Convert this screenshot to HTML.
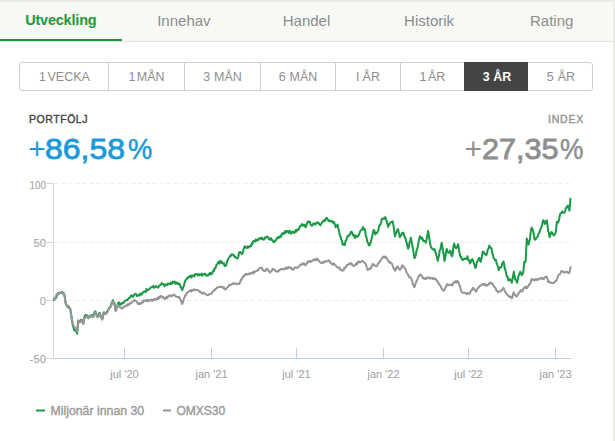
<!DOCTYPE html>
<html><head><meta charset="utf-8">
<style>
html,body{margin:0;padding:0;}
body{width:615px;height:441px;overflow:hidden;background:#ecebe6;font-family:"Liberation Sans",sans-serif;position:relative;}
#panel{position:absolute;left:0;top:2px;width:613px;height:439px;background:#fff;}
#tabs{position:absolute;left:0;top:0;width:613px;height:39px;background:#f8f8f5;border-bottom:1px solid #e3e3df;}
.tab{position:absolute;top:0;height:39px;width:122.6px;text-align:center;line-height:37px;font-size:15px;color:#8d8d8d;}
.tab.act{color:#1b9a3e;font-weight:bold;font-size:14.5px;letter-spacing:-0.2px;text-indent:-1px;}
#uline{position:absolute;left:0;top:37px;width:122px;height:2px;background:#17953a;}
#btns{position:absolute;left:19px;top:60px;width:572px;height:27px;border:1px solid #cfcfcf;border-radius:3px;}
.b{position:absolute;top:0;height:27px;line-height:29px;word-spacing:-2px;text-align:center;font-size:12.5px;color:#8e8e8e;border-left:1px solid #cfcfcf;box-sizing:border-box;}
.b.sel{background:#444;color:#fff;font-weight:bold;border-left:none;top:-1px;height:29px;line-height:31px;}
.lab{position:absolute;font-size:10.5px;font-weight:normal;letter-spacing:0.55px;line-height:10px;-webkit-text-stroke:0.4px currentColor;}
.val{position:absolute;font-size:30px;line-height:30px;white-space:nowrap;}
.val span{position:absolute;top:0;transform-origin:0 0;}
.val .d{-webkit-text-stroke:0.8px currentColor;}
.val .c{-webkit-text-stroke:0.5px currentColor;}
svg{position:absolute;left:0;top:0;}
text{font-family:"Liberation Sans",sans-serif;}
</style></head><body>
<div id="panel">
 <div id="tabs">
  <div class="tab act" style="left:0">Utveckling</div>
  <div class="tab" style="left:122.6px">Innehav</div>
  <div class="tab" style="left:245.2px">Handel</div>
  <div class="tab" style="left:367.8px">Historik</div>
  <div class="tab" style="left:490.4px">Rating</div>
  <div id="uline"></div>
 </div>
 <div id="btns">
  <div class="b" style="left:0;width:89px;border-left:none">1 VECKA</div>
  <div class="b" style="left:88px;width:76px">1 MÅN</div>
  <div class="b" style="left:164px;width:76px;word-spacing:0.5px">3 MÅN</div>
  <div class="b" style="left:240px;width:75px;word-spacing:0.5px">6 MÅN</div>
  <div class="b" style="left:315px;width:65px;word-spacing:-0.5px">I ÅR</div>
  <div class="b" style="left:380px;width:64px">1 ÅR</div>
  <div class="b sel" style="left:444px;width:64px;word-spacing:0px;padding-left:2px">3 ÅR</div>
  <div class="b" style="left:508px;width:64px;border-left:none;word-spacing:0.5px;padding-left:2px">5 ÅR</div>
 </div>
 <div class="lab" style="left:29px;top:112px;color:#444">PORTFÖLJ</div>
 <div class="val" style="left:0;top:132px;color:#1b9ad8;width:300px;height:30px">
  <span class="p" style="left:28.3px">+</span>
  <span class="d" style="left:44.8px;transform:scaleX(1.065)">86,58</span>
  <span class="c" style="left:128.4px;transform:scaleX(0.91)">%</span>
 </div>
 <div class="lab" style="left:548px;top:112px;color:#939393;letter-spacing:0.8px">INDEX</div>
 <div class="val" style="left:0;top:132px;color:#8e8e8e;width:613px;height:30px">
  <span class="p" style="left:464.5px">+</span>
  <span class="d" style="left:481.5px;transform:scaleX(1.02)">27,35</span>
  <span class="c" style="left:559.6px;transform:scaleX(0.88)">%</span>
 </div>
</div>
<svg width="615" height="441" viewBox="0 0 615 441">
 <g stroke="#ececec" stroke-width="1" stroke-dasharray="4 3" fill="none">
  <line x1="54.5" y1="183.5" x2="570" y2="183.5"/>
  <line x1="54.5" y1="242.5" x2="570" y2="242.5"/>
  <line x1="54.5" y1="300.5" x2="570" y2="300.5"/>
 </g>
 <g stroke="#d8d8d8" stroke-width="1" fill="none">
  <line x1="53.5" y1="183" x2="53.5" y2="359"/>
  <line x1="45.5" y1="183.5" x2="54" y2="183.5"/>
  <line x1="45.5" y1="242.5" x2="54" y2="242.5"/>
  <line x1="45.5" y1="300.5" x2="54" y2="300.5"/>
  <line x1="45.5" y1="358.5" x2="54" y2="358.5"/>
 </g>
 <g stroke="#b9cfe6" stroke-width="1" fill="none">
  <line x1="54" y1="358.5" x2="571" y2="358.5"/>
  <line x1="124.5" y1="348" x2="124.5" y2="358"/>
  <line x1="211.5" y1="348" x2="211.5" y2="358"/>
  <line x1="296.5" y1="348" x2="296.5" y2="358"/>
  <line x1="383.5" y1="348" x2="383.5" y2="358"/>
  <line x1="468.5" y1="348" x2="468.5" y2="358"/>
  <line x1="555.5" y1="348" x2="555.5" y2="358"/>
 </g>
 <g font-size="11.2" fill="#9e9e9e" text-anchor="end">
  <text x="46" y="189" textLength="16.5" lengthAdjust="spacingAndGlyphs">100</text>
  <text x="46" y="247.2">50</text>
  <text x="46" y="305.2">0</text>
  <text x="46" y="363.2">-50</text>
 </g>
 <g font-size="11" fill="#9e9e9e" text-anchor="middle">
  <text x="124.5" y="378">jul '20</text>
  <text x="211.5" y="378">jan '21</text>
  <text x="296.5" y="378">jul '21</text>
  <text x="383.5" y="378">jan '22</text>
  <text x="468.5" y="378">jul '22</text>
  <text x="555.5" y="378">jan '23</text>
 </g>
 <path d="M53.8 300.0 L54.4 298.2 L55.0 298.5 L55.8 298.3 L56.5 296.9 L57.3 295.0 L58.0 293.6 L58.8 293.7 L59.5 293.0 L60.3 292.6 L61.0 292.8 L61.8 292.1 L62.6 293.7 L63.4 292.6 L64.2 294.5 L64.8 296.5 L65.4 302.1 L66.0 304.5 L66.7 305.2 L67.4 307.0 L68.1 307.2 L68.8 306.4 L69.6 308.2 L70.3 309.0 L70.9 313.6 L71.5 316.1 L72.1 320.8 L72.8 325.6 L73.6 328.0 L74.3 330.4 L75.0 330.5 L75.7 330.3 L76.4 331.4 L77.1 333.8 L77.7 327.3 L78.2 320.5 L78.8 322.5 L79.5 322.0 L80.2 320.6 L81.0 319.8 L81.7 319.9 L82.3 321.5 L83.3 323.5 L83.9 319.9 L84.5 316.8 L85.2 315.1 L85.9 315.2 L86.6 315.4 L87.3 315.2 L87.8 316.6 L88.4 318.0 L89.2 316.6 L89.9 315.9 L90.7 316.0 L91.4 315.1 L92.2 315.7 L92.9 315.1 L93.6 315.6 L94.4 312.1 L95.3 311.2 L96.0 314.0 L96.8 315.1 L97.5 316.8 L98.3 315.9 L99.0 313.3 L99.8 312.8 L100.4 315.7 L101.0 316.9 L101.7 316.4 L102.3 319.0 L103.0 315.1 L103.8 312.2 L104.5 312.9 L105.2 313.0 L105.9 313.7 L106.6 312.6 L107.4 310.8 L108.1 310.5 L108.9 308.0 L109.8 307.7 L110.6 306.5 L111.4 303.8 L112.1 302.5 L112.9 300.2 L113.7 302.7 L114.4 303.0 L115.1 307.7 L115.7 310.5 L116.5 308.2 L117.2 306.1 L118.0 303.5 L118.7 302.3 L119.4 303.1 L120.0 304.8 L120.7 303.8 L121.4 304.2 L122.1 302.7 L122.7 303.2 L123.4 303.1 L124.1 302.4 L124.7 301.0 L125.4 300.8 L126.1 300.2 L126.7 299.9 L127.4 300.2 L128.1 299.0 L128.7 298.2 L129.4 298.0 L130.1 297.5 L130.8 295.7 L131.5 295.2 L132.3 296.6 L133.0 296.9 L133.7 295.3 L134.4 294.5 L135.1 294.3 L135.7 293.7 L136.4 294.7 L137.0 296.1 L137.7 295.6 L138.3 295.0 L139.0 295.0 L139.7 295.6 L140.3 293.5 L141.0 293.8 L141.7 294.7 L142.4 293.2 L143.1 292.5 L143.7 291.6 L144.4 291.8 L145.1 291.4 L145.8 292.1 L146.5 288.9 L147.2 290.5 L147.9 290.1 L148.6 289.8 L149.3 288.9 L150.0 288.6 L150.7 287.2 L151.4 287.2 L152.0 287.2 L152.7 286.8 L153.4 285.7 L154.1 287.9 L154.7 287.0 L155.4 286.7 L156.1 286.1 L156.8 287.2 L157.5 287.3 L158.2 287.6 L158.9 286.3 L159.6 285.3 L160.4 284.9 L161.1 284.3 L161.8 283.0 L162.5 284.1 L163.2 284.5 L163.8 284.2 L164.5 286.3 L165.2 285.0 L165.9 284.2 L166.7 284.8 L167.4 285.0 L168.1 283.4 L168.8 284.1 L169.5 284.1 L170.2 284.0 L170.8 282.4 L171.5 283.9 L172.2 283.4 L172.9 281.6 L173.6 282.7 L174.3 281.5 L174.9 281.7 L175.6 283.9 L176.3 282.6 L177.0 282.4 L177.7 284.0 L178.3 283.4 L179.0 284.0 L179.7 284.1 L180.3 285.6 L181.0 287.9 L181.6 288.1 L182.3 290.3 L183.1 287.2 L183.9 285.9 L184.6 282.7 L185.4 280.4 L186.1 279.4 L186.7 279.3 L187.4 277.5 L188.0 278.0 L188.7 277.5 L189.3 276.4 L190.0 276.7 L190.7 275.4 L191.4 277.5 L192.2 276.2 L192.9 275.2 L193.6 276.1 L194.3 276.5 L195.0 274.1 L195.8 273.9 L196.5 274.1 L197.2 274.9 L197.9 275.4 L198.6 273.8 L199.4 275.2 L200.1 275.0 L200.8 274.6 L201.5 273.6 L202.2 275.6 L203.0 275.0 L203.7 274.1 L204.4 274.0 L205.1 273.7 L205.8 275.3 L206.5 275.1 L207.2 275.8 L207.9 275.6 L208.5 274.4 L209.2 274.8 L209.9 272.8 L210.6 273.0 L211.2 274.4 L211.9 273.7 L212.6 272.2 L213.3 270.5 L213.9 270.9 L214.6 268.2 L215.2 268.7 L215.9 267.0 L216.5 264.9 L217.2 264.0 L217.9 262.9 L218.7 261.7 L219.4 263.7 L220.2 260.9 L220.9 262.6 L221.7 261.3 L222.4 263.5 L223.1 263.3 L223.9 263.1 L224.6 265.9 L225.3 265.8 L226.0 265.6 L226.7 263.2 L227.3 261.1 L228.0 259.5 L228.7 258.1 L229.5 257.0 L230.2 255.6 L231.0 255.9 L231.7 254.4 L232.4 254.7 L233.0 254.6 L233.7 254.9 L234.4 257.0 L235.1 256.5 L235.8 257.5 L236.4 257.6 L237.1 258.6 L237.8 258.0 L238.4 256.5 L239.1 252.5 L239.8 252.2 L240.4 252.0 L241.1 252.9 L241.7 254.0 L242.4 253.6 L243.1 251.3 L243.7 248.4 L244.4 247.1 L245.1 246.2 L245.8 247.4 L246.4 247.8 L247.1 248.0 L247.8 246.2 L248.5 247.6 L249.1 247.0 L249.8 246.4 L250.5 245.6 L251.1 246.2 L251.8 243.3 L252.5 243.8 L253.2 241.2 L253.8 240.7 L254.5 240.8 L255.2 241.6 L256.0 239.4 L256.7 240.6 L257.4 239.8 L258.1 240.2 L258.9 238.6 L259.6 238.2 L260.3 237.7 L261.1 239.0 L261.8 237.7 L262.5 238.3 L263.1 239.6 L263.8 239.8 L264.5 239.0 L265.1 237.4 L265.7 237.9 L266.3 237.2 L267.0 236.5 L267.6 236.8 L268.3 237.4 L269.0 239.0 L269.6 239.7 L270.3 239.2 L270.9 238.1 L271.6 240.0 L272.2 239.7 L272.9 241.4 L273.6 242.1 L274.4 242.2 L275.1 240.4 L275.9 240.3 L276.6 238.7 L277.4 237.6 L278.1 238.1 L278.8 236.8 L279.5 237.8 L280.2 236.3 L280.9 236.6 L281.5 234.6 L282.2 233.4 L282.9 234.2 L283.6 232.7 L284.4 233.5 L285.1 231.0 L285.9 232.7 L286.6 231.0 L287.4 230.9 L288.1 231.8 L288.8 233.0 L289.5 230.8 L290.2 231.5 L290.9 233.8 L291.5 232.3 L292.2 231.6 L292.9 231.9 L293.6 233.0 L294.2 231.7 L294.9 232.5 L295.6 230.1 L296.2 231.8 L296.9 229.7 L297.5 229.4 L298.2 230.0 L299.0 229.1 L299.7 226.7 L300.4 225.9 L301.1 225.8 L301.9 224.1 L302.6 224.5 L303.3 225.6 L304.0 224.6 L304.7 225.2 L305.4 227.2 L306.0 227.1 L306.7 223.7 L307.4 223.1 L308.0 221.4 L308.7 221.8 L309.3 221.9 L310.0 221.7 L310.6 224.6 L311.3 225.3 L311.9 225.8 L312.6 225.0 L313.3 223.5 L314.0 223.4 L314.7 224.1 L315.4 224.7 L316.1 223.0 L316.8 223.0 L317.5 222.1 L318.2 223.4 L318.9 223.1 L319.7 224.7 L320.4 225.4 L321.2 223.9 L321.9 222.7 L322.7 221.2 L323.5 221.4 L324.3 219.9 L325.1 221.0 L325.8 218.6 L326.6 217.8 L327.3 218.9 L327.9 219.6 L328.6 221.2 L329.2 220.4 L329.9 221.4 L330.5 220.9 L331.2 221.0 L331.9 221.1 L332.5 222.6 L333.1 222.8 L333.8 221.8 L334.4 223.0 L335.1 224.9 L335.7 227.2 L336.3 226.4 L336.9 225.6 L337.5 224.5 L338.3 228.4 L339.0 231.1 L339.8 235.4 L340.5 236.3 L341.2 239.2 L341.9 241.0 L342.6 244.5 L343.3 244.8 L344.0 243.6 L344.7 245.0 L345.5 241.2 L346.3 240.2 L347.1 237.2 L347.9 235.7 L348.6 236.2 L349.4 234.5 L350.1 234.6 L350.9 231.7 L351.6 231.8 L352.3 233.2 L353.1 235.3 L353.8 234.7 L354.5 237.2 L355.2 238.0 L356.0 235.4 L356.8 236.6 L357.5 236.8 L358.2 235.9 L359.0 234.5 L359.7 232.5 L360.5 230.5 L361.2 230.2 L362.0 229.8 L362.7 227.2 L363.3 227.2 L363.9 229.5 L364.5 229.0 L365.2 231.2 L365.9 236.5 L366.5 237.2 L367.2 241.7 L368.0 242.4 L368.8 245.3 L369.6 245.4 L370.3 243.7 L370.9 241.4 L371.6 238.7 L372.3 235.8 L372.9 233.1 L373.6 230.0 L374.2 230.6 L374.8 232.8 L375.4 234.5 L376.1 232.6 L376.8 233.3 L377.4 232.3 L378.1 230.9 L378.8 227.8 L379.6 224.9 L380.3 225.1 L381.1 222.2 L381.8 219.0 L382.5 218.8 L383.2 218.4 L384.0 218.9 L384.7 217.4 L385.4 217.2 L386.1 219.3 L386.8 221.6 L387.4 223.8 L388.1 226.9 L388.8 224.2 L389.6 224.5 L390.3 222.7 L391.1 222.0 L391.8 222.0 L392.6 221.4 L393.4 225.1 L394.2 230.9 L395.0 236.3 L395.8 233.5 L396.6 231.6 L397.3 230.2 L398.1 229.0 L398.7 232.7 L399.3 234.2 L399.9 237.2 L400.6 235.8 L401.3 235.3 L402.0 233.1 L402.7 232.7 L403.4 232.7 L404.0 235.5 L404.7 236.8 L405.4 238.2 L406.1 241.2 L406.8 243.2 L407.5 246.5 L408.2 248.6 L408.9 246.5 L409.5 242.5 L410.2 240.5 L410.9 237.8 L411.6 241.8 L412.3 245.2 L413.1 249.7 L413.8 254.2 L414.5 258.1 L415.2 257.0 L415.9 254.7 L416.5 250.6 L417.2 249.0 L417.9 246.3 L418.6 241.4 L419.3 238.4 L420.0 236.4 L420.8 237.2 L421.5 239.0 L422.2 237.7 L423.0 240.1 L423.8 241.2 L424.5 240.9 L425.1 241.3 L425.8 242.7 L426.6 239.3 L427.3 235.8 L428.1 230.9 L428.8 234.6 L429.5 239.6 L430.2 243.8 L430.9 247.2 L431.6 247.8 L432.3 248.9 L433.1 249.4 L433.8 249.9 L434.5 249.0 L435.1 251.6 L435.8 252.9 L436.4 255.4 L437.1 257.7 L437.7 260.9 L438.4 258.1 L439.0 255.6 L439.7 250.5 L440.4 249.3 L441.0 246.3 L441.7 242.7 L442.4 246.8 L443.1 251.8 L443.8 255.4 L444.5 260.9 L445.3 257.6 L446.0 251.7 L446.8 249.0 L447.4 251.6 L448.0 252.3 L448.6 252.7 L449.2 252.5 L449.9 250.8 L450.5 250.9 L451.3 254.8 L452.1 256.3 L452.8 253.4 L453.4 246.8 L454.1 243.6 L454.8 245.9 L455.6 247.6 L456.3 248.1 L456.9 247.2 L457.5 246.1 L458.1 244.2 L458.7 247.5 L459.3 252.3 L459.9 254.5 L460.6 257.2 L461.2 256.9 L461.9 259.5 L462.6 260.0 L463.3 259.6 L464.0 258.7 L464.8 258.9 L465.5 258.2 L466.2 259.0 L466.9 258.8 L467.5 256.3 L468.3 260.0 L469.1 260.1 L469.9 263.6 L470.7 262.3 L471.4 260.3 L472.2 259.0 L473.0 260.2 L473.8 263.0 L474.5 265.1 L475.3 268.1 L476.0 266.8 L476.7 262.7 L477.5 261.2 L478.2 259.9 L478.9 258.1 L479.5 258.0 L480.2 260.9 L480.8 261.8 L481.4 258.8 L482.0 256.1 L482.6 251.8 L483.3 251.7 L484.0 252.6 L484.8 254.1 L485.5 254.0 L486.2 255.4 L487.0 253.1 L487.8 249.7 L488.5 248.4 L489.3 245.4 L490.0 247.1 L490.8 248.1 L491.5 248.1 L492.2 252.9 L493.0 255.1 L493.7 258.4 L494.4 258.9 L495.2 260.4 L495.9 259.9 L496.6 263.2 L497.4 265.2 L498.1 267.3 L498.8 270.2 L499.5 268.6 L500.3 267.1 L501.0 267.2 L501.6 266.6 L502.2 263.2 L502.9 263.5 L503.5 261.4 L504.2 264.5 L504.8 268.6 L505.5 270.2 L506.2 273.5 L506.9 276.7 L507.7 276.9 L508.4 280.5 L509.1 279.8 L509.9 279.0 L510.5 280.4 L511.2 280.9 L511.8 282.7 L512.5 279.0 L513.2 275.0 L513.9 271.7 L514.6 275.8 L515.3 279.8 L516.1 279.9 L517.0 282.7 L517.9 278.8 L518.7 275.3 L519.5 273.4 L520.2 271.7 L521.0 273.0 L521.7 275.3 L522.4 273.9 L523.1 273.1 L523.7 268.4 L524.2 262.1 L524.9 262.3 L525.6 261.4 L526.2 250.0 L526.8 238.6 L527.4 241.0 L528.0 242.2 L528.6 244.5 L529.2 241.4 L529.8 240.0 L530.6 232.4 L531.5 227.6 L532.2 228.4 L533.0 230.5 L533.8 235.2 L534.5 239.3 L535.1 239.8 L535.8 239.1 L536.5 237.7 L537.1 237.1 L537.8 236.7 L538.6 233.5 L539.3 232.8 L540.1 229.8 L540.8 228.3 L541.4 227.0 L542.0 225.6 L542.7 221.7 L543.3 220.2 L544.0 221.1 L544.8 223.9 L545.4 223.0 L546.1 221.5 L546.7 220.2 L547.5 225.3 L548.2 231.2 L548.9 232.8 L549.6 237.1 L550.3 235.1 L550.9 233.5 L551.6 232.0 L552.5 233.2 L553.3 234.9 L554.0 235.4 L554.8 234.1 L555.5 233.4 L556.2 228.2 L557.0 221.7 L557.8 222.8 L558.5 221.7 L559.2 218.7 L560.0 214.3 L560.7 213.3 L561.5 213.1 L562.2 211.4 L562.9 212.3 L563.7 212.7 L564.4 212.8 L565.1 211.0 L565.8 208.4 L566.5 207.2 L567.1 206.8 L567.8 205.5 L568.6 208.4 L569.5 210.6 L570.4 198.8" stroke="#1a9a46" stroke-width="2" fill="none" stroke-linejoin="round" stroke-linecap="round"/>
 <path d="M53.8 299.5 L54.4 299.4 L55.0 297.5 L55.8 297.2 L56.5 294.3 L57.3 294.0 L58.0 292.7 L58.8 293.7 L59.5 292.5 L60.3 292.8 L61.0 292.6 L61.8 292.1 L62.6 292.5 L63.4 293.9 L64.2 294.5 L64.8 298.0 L65.4 301.3 L66.0 304.5 L66.7 304.7 L67.4 306.2 L68.1 307.2 L68.8 307.6 L69.6 308.8 L70.3 309.0 L70.9 313.9 L71.5 317.8 L72.1 320.8 L72.8 323.5 L73.6 326.0 L74.3 326.9 L74.9 327.5 L75.6 328.1 L76.3 330.0 L77.3 331.5 L78.2 321.0 L78.8 320.8 L79.5 322.5 L80.2 321.4 L81.0 320.5 L81.7 320.9 L82.3 322.0 L83.3 324.0 L83.9 320.5 L84.5 317.5 L85.2 317.9 L85.9 316.8 L86.6 316.5 L87.3 316.0 L87.8 316.7 L88.4 318.5 L89.2 316.9 L89.9 317.0 L90.7 316.7 L91.4 315.8 L92.2 316.5 L92.9 317.3 L93.6 316.2 L94.4 314.4 L95.3 312.0 L96.0 313.1 L96.8 316.3 L97.5 317.3 L98.3 316.6 L99.0 315.2 L99.8 313.5 L100.4 315.8 L101.0 317.1 L101.7 318.7 L102.3 319.6 L103.0 316.0 L103.8 313.0 L104.5 314.0 L105.2 314.1 L105.9 312.5 L106.6 313.3 L107.4 312.2 L108.1 310.5 L108.9 308.5 L109.8 307.7 L110.6 307.1 L111.4 305.3 L112.1 303.3 L112.9 301.5 L113.7 303.4 L114.4 303.7 L115.1 307.4 L115.7 311.0 L116.5 309.6 L117.2 306.6 L118.0 304.8 L118.7 306.2 L119.4 307.0 L120.0 306.8 L120.7 307.7 L121.4 308.2 L122.1 308.7 L122.7 308.0 L123.4 307.2 L124.0 306.3 L124.7 306.2 L125.3 306.6 L126.0 305.9 L126.7 304.8 L127.4 305.8 L128.0 304.1 L128.7 305.0 L129.4 303.7 L130.1 302.8 L130.8 303.6 L131.5 302.5 L132.3 301.6 L133.0 301.1 L133.7 300.8 L134.4 300.0 L135.1 300.7 L135.7 300.8 L136.4 301.1 L137.0 302.3 L137.7 303.7 L138.3 303.7 L139.0 304.0 L139.7 302.8 L140.3 303.9 L141.0 303.3 L141.7 303.3 L142.4 301.4 L143.1 302.2 L143.7 300.4 L144.4 300.9 L145.1 301.1 L145.8 300.3 L146.5 300.1 L147.2 301.4 L147.9 299.7 L148.6 300.5 L149.3 301.1 L150.0 300.3 L150.7 299.7 L151.3 299.6 L152.0 300.9 L152.7 299.9 L153.4 300.4 L154.1 299.0 L154.7 299.6 L155.4 299.8 L156.1 298.8 L156.8 299.4 L157.5 297.8 L158.2 299.2 L159.0 296.9 L159.7 297.9 L160.4 296.1 L161.1 296.2 L161.8 296.3 L162.5 297.6 L163.2 297.0 L163.8 297.7 L164.5 299.0 L165.2 298.9 L165.9 297.9 L166.6 296.7 L167.3 298.1 L168.0 296.7 L168.7 295.8 L169.4 295.4 L170.1 295.9 L170.8 296.3 L171.5 296.4 L172.2 295.0 L172.9 295.2 L173.6 295.4 L174.3 294.6 L174.9 295.6 L175.6 296.4 L176.3 296.5 L177.0 297.0 L177.7 296.9 L178.3 297.3 L179.0 296.7 L179.7 298.6 L180.3 299.6 L181.0 300.5 L181.6 302.9 L182.3 304.0 L183.1 301.4 L183.9 298.7 L184.6 297.1 L185.4 294.9 L186.1 294.9 L186.8 292.7 L187.6 292.8 L188.3 291.7 L189.0 291.2 L189.7 291.1 L190.4 290.2 L191.1 291.7 L191.8 290.1 L192.4 290.7 L193.1 290.1 L193.8 289.2 L194.5 290.0 L195.2 290.3 L195.9 289.7 L196.6 289.7 L197.3 289.9 L198.0 290.3 L198.7 290.4 L199.4 291.7 L200.1 291.6 L200.8 291.8 L201.5 293.1 L202.2 293.4 L202.9 293.8 L203.6 292.6 L204.4 293.4 L205.1 293.4 L205.8 294.4 L206.5 294.8 L207.2 294.9 L207.9 295.3 L208.7 294.9 L209.4 293.8 L210.2 293.9 L210.9 293.9 L211.7 293.6 L212.4 291.8 L213.2 291.0 L213.9 290.9 L214.7 289.4 L215.4 289.8 L216.2 288.5 L216.9 287.8 L217.6 287.2 L218.3 287.2 L218.9 287.1 L219.6 286.8 L220.3 287.2 L221.0 286.9 L221.7 286.7 L222.4 286.8 L223.1 287.9 L223.9 287.4 L224.6 289.3 L225.3 288.9 L226.0 289.3 L226.6 288.3 L227.3 287.2 L227.9 286.9 L228.6 286.5 L229.2 284.9 L229.9 285.3 L230.7 284.8 L231.4 284.7 L232.2 283.7 L232.9 283.2 L233.7 284.3 L234.4 283.4 L235.2 283.2 L235.9 283.6 L236.7 284.5 L237.4 284.0 L238.2 283.5 L238.9 284.0 L239.6 283.8 L240.3 281.5 L241.0 279.6 L241.7 279.8 L242.3 277.5 L243.0 276.8 L243.7 276.7 L244.4 274.9 L245.1 275.1 L245.8 273.7 L246.4 274.5 L247.1 274.3 L247.8 274.3 L248.5 273.6 L249.1 274.3 L249.8 274.0 L250.5 272.9 L251.2 273.0 L251.9 272.9 L252.6 273.7 L253.3 271.7 L254.0 272.8 L254.7 271.4 L255.4 271.7 L256.1 271.4 L256.8 270.6 L257.5 270.2 L258.1 270.4 L258.8 269.2 L259.5 268.2 L260.2 267.7 L260.9 268.0 L261.6 267.7 L262.4 269.7 L263.1 269.8 L263.9 271.0 L264.6 271.0 L265.4 271.1 L266.0 269.3 L266.6 269.8 L267.2 268.6 L267.9 270.2 L268.6 271.0 L269.3 271.6 L270.0 272.6 L270.7 271.4 L271.4 270.7 L272.0 270.5 L272.7 269.0 L273.4 268.9 L274.2 269.8 L274.9 270.0 L275.7 271.3 L276.4 271.4 L277.2 271.1 L277.9 271.7 L278.6 271.2 L279.3 269.9 L279.9 269.5 L280.6 269.8 L281.3 269.0 L282.0 269.1 L282.7 269.0 L283.4 269.2 L284.1 269.5 L284.7 268.6 L285.4 268.9 L286.1 267.3 L286.8 267.6 L287.4 268.7 L288.1 267.5 L288.9 267.0 L289.6 267.8 L290.4 267.4 L291.1 267.7 L291.9 269.5 L292.6 269.0 L293.3 269.8 L294.0 268.8 L294.7 267.6 L295.4 267.7 L296.0 267.3 L296.7 268.0 L297.4 267.8 L298.1 267.2 L298.9 266.4 L299.6 265.9 L300.4 264.4 L301.1 264.6 L301.9 264.8 L302.6 263.2 L303.3 264.2 L304.0 263.4 L304.7 264.8 L305.4 265.3 L306.0 264.7 L306.7 262.8 L307.4 263.1 L308.0 261.3 L308.7 261.2 L309.3 261.6 L310.0 260.9 L310.6 262.0 L311.3 261.5 L311.9 261.0 L312.6 260.8 L313.3 259.8 L314.0 260.2 L314.7 259.1 L315.4 260.0 L316.1 260.3 L316.8 258.6 L317.5 259.0 L318.2 259.9 L318.9 260.8 L319.7 261.5 L320.4 262.6 L321.1 262.9 L321.7 263.2 L322.4 262.6 L323.1 261.9 L323.7 262.8 L324.4 261.7 L325.1 261.1 L325.7 261.7 L326.4 261.3 L327.1 261.3 L327.7 261.2 L328.4 260.3 L329.1 260.4 L329.7 261.8 L330.4 262.0 L331.0 263.2 L331.7 263.5 L332.4 264.8 L333.1 264.4 L333.9 263.4 L334.6 264.6 L335.3 265.0 L336.0 266.0 L336.7 267.0 L337.5 267.1 L338.2 268.0 L338.9 268.0 L339.6 267.4 L340.2 269.7 L340.9 269.7 L341.6 269.8 L342.2 270.8 L342.9 270.4 L343.6 270.3 L344.3 267.8 L345.0 268.3 L345.7 267.3 L346.4 265.3 L347.1 265.0 L347.8 265.1 L348.5 264.5 L349.3 263.3 L350.0 264.2 L350.7 263.2 L351.4 263.2 L352.1 264.9 L352.9 265.3 L353.6 266.2 L354.3 265.2 L354.9 265.3 L355.6 264.6 L356.2 263.6 L356.9 264.6 L357.5 262.3 L358.2 262.6 L358.9 261.3 L359.6 262.0 L360.2 262.4 L360.9 261.7 L361.6 261.6 L362.3 260.8 L363.1 261.4 L363.9 262.5 L364.6 262.5 L365.4 263.5 L366.1 265.2 L366.9 267.8 L367.6 269.9 L368.4 268.8 L369.2 268.7 L370.0 269.3 L370.7 268.5 L371.4 265.9 L372.0 265.8 L372.7 263.9 L373.4 264.9 L374.1 264.6 L374.9 265.6 L375.6 266.3 L376.3 266.2 L377.1 266.0 L377.9 263.7 L378.6 262.8 L379.4 262.6 L380.2 261.0 L381.0 259.7 L381.8 258.4 L382.5 257.6 L383.2 256.6 L384.0 257.3 L384.7 257.7 L385.4 256.3 L386.1 257.2 L386.8 258.6 L387.4 259.4 L388.1 260.8 L388.8 261.2 L389.5 262.6 L390.3 262.0 L391.0 263.3 L391.7 263.5 L392.4 264.9 L393.0 266.5 L393.7 268.7 L394.3 268.5 L395.0 270.8 L395.6 270.3 L396.2 268.1 L396.9 267.6 L397.5 266.2 L398.3 268.0 L399.1 269.0 L399.9 269.9 L400.6 268.6 L401.3 268.3 L402.0 265.7 L402.7 265.4 L403.4 266.6 L404.0 267.0 L404.7 268.2 L405.4 269.0 L406.1 271.3 L406.9 272.9 L407.6 274.2 L408.4 275.2 L409.1 277.2 L409.7 277.0 L410.3 277.7 L410.9 278.1 L411.6 279.4 L412.2 281.3 L412.9 284.5 L413.5 284.6 L414.2 287.2 L414.9 286.0 L415.7 283.3 L416.4 281.5 L417.2 279.9 L417.9 278.2 L418.6 276.4 L419.3 275.8 L420.0 274.5 L420.7 274.6 L421.4 275.8 L422.2 276.2 L422.9 278.2 L423.6 278.1 L424.3 278.9 L425.0 278.0 L425.6 278.4 L426.3 279.0 L427.0 277.8 L427.6 277.3 L428.3 277.6 L429.0 278.1 L429.7 277.5 L430.4 278.6 L431.1 278.0 L431.8 278.0 L432.6 279.0 L433.3 277.9 L434.0 279.1 L434.7 278.8 L435.4 278.6 L436.1 279.4 L436.8 281.2 L437.6 281.2 L438.3 283.3 L439.0 283.5 L439.7 285.4 L440.3 285.6 L441.0 287.0 L441.6 288.6 L442.3 289.2 L442.9 290.3 L443.6 290.8 L444.2 290.3 L444.9 289.2 L445.5 287.5 L446.2 286.7 L446.8 284.5 L447.5 284.2 L448.2 285.0 L448.9 285.2 L449.6 284.7 L450.3 284.9 L451.0 284.6 L451.7 285.4 L452.4 285.4 L453.0 283.3 L453.7 282.6 L454.4 281.7 L455.1 282.5 L455.9 281.1 L456.6 282.6 L457.4 281.0 L458.1 281.7 L458.8 282.8 L459.5 285.4 L460.3 287.4 L461.0 290.5 L461.7 291.7 L462.4 292.8 L463.2 292.8 L463.9 292.5 L464.7 293.0 L465.4 292.7 L466.2 293.5 L466.9 294.2 L467.7 293.3 L468.4 293.1 L469.2 293.8 L469.9 293.5 L470.6 291.5 L471.2 290.4 L471.9 290.3 L472.6 288.1 L473.3 288.0 L473.9 288.8 L474.6 289.7 L475.2 290.5 L475.9 291.7 L476.6 290.4 L477.4 289.0 L478.1 288.0 L478.9 287.2 L479.6 286.1 L480.4 285.4 L481.1 285.6 L481.9 284.4 L482.6 284.1 L483.4 284.1 L484.1 285.1 L484.9 283.9 L485.6 284.3 L486.4 285.9 L487.1 285.4 L487.8 284.7 L488.5 284.8 L489.3 283.0 L490.0 283.2 L490.7 282.6 L491.4 283.7 L492.2 283.4 L492.9 284.2 L493.7 286.2 L494.4 287.0 L495.2 287.9 L495.9 288.8 L496.6 291.1 L497.4 291.0 L498.1 292.3 L498.8 291.9 L499.6 291.8 L500.3 290.8 L501.0 290.8 L501.6 290.8 L502.2 289.5 L502.9 288.8 L503.5 287.9 L504.2 289.3 L504.9 291.4 L505.5 292.7 L506.2 293.0 L506.9 294.6 L507.6 294.8 L508.4 295.6 L509.1 296.7 L509.8 297.1 L510.5 296.5 L511.1 297.0 L511.8 298.2 L512.5 297.2 L513.2 293.5 L513.9 292.3 L514.6 294.6 L515.3 295.2 L515.9 295.8 L516.6 296.6 L517.2 296.0 L518.0 293.9 L518.7 293.0 L519.5 292.7 L520.2 290.8 L520.8 290.1 L521.5 290.5 L522.1 291.5 L522.8 290.0 L523.5 288.4 L524.2 287.9 L524.9 287.0 L525.6 287.9 L526.2 286.6 L526.9 288.2 L527.6 287.1 L528.3 286.4 L529.1 284.3 L529.8 284.2 L530.4 283.3 L531.1 280.2 L531.7 279.0 L532.3 279.3 L533.0 279.9 L533.6 279.4 L534.2 280.5 L534.9 280.2 L535.7 279.0 L536.4 279.0 L537.2 280.1 L537.9 279.0 L538.6 279.4 L539.3 278.5 L540.1 278.6 L540.8 278.0 L541.5 279.0 L542.3 277.8 L543.0 278.7 L543.8 279.0 L544.5 277.7 L545.2 277.1 L546.0 276.6 L546.7 276.8 L547.5 278.8 L548.2 282.0 L548.9 281.4 L549.7 282.1 L550.4 283.0 L551.1 282.6 L551.9 282.9 L552.6 283.2 L553.3 283.1 L554.1 282.6 L554.8 282.0 L555.5 281.0 L556.3 280.8 L557.0 279.0 L557.7 276.9 L558.5 275.3 L559.2 274.6 L559.9 274.1 L560.7 272.6 L561.4 271.2 L562.1 271.0 L562.9 271.7 L563.6 271.9 L564.4 272.7 L565.1 272.2 L565.9 271.9 L566.6 271.7 L567.3 271.7 L568.0 272.8 L568.8 273.1 L569.5 272.7 L570.0 270.1 L570.6 267.2" stroke="#959595" stroke-width="2" fill="none" stroke-linejoin="round" stroke-linecap="round"/>
 <line x1="36" y1="410.5" x2="45" y2="410.5" stroke="#1a9a46" stroke-width="2"/>
 <text x="50.5" y="414.5" font-size="12.3" fill="#9b9b9b" stroke="#9b9b9b" stroke-width="0.4">Miljonär innan 30</text>
 <line x1="163" y1="410.5" x2="171" y2="410.5" stroke="#959595" stroke-width="2"/>
 <text x="176.5" y="414.5" font-size="12" fill="#9b9b9b" stroke="#9b9b9b" stroke-width="0.4">OMXS30</text>
</svg>
</body></html>
